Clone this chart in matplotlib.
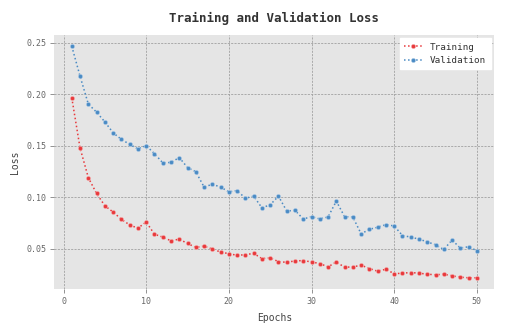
import matplotlib
matplotlib.use("Agg")
import matplotlib.pyplot as plt
import numpy as np

epochs = list(range(1, 51))
train_loss = [0.1965, 0.1478, 0.119, 0.1036, 0.0917, 0.0856, 0.0786, 0.0731, 0.0699, 0.076,
              0.0641, 0.0613, 0.0577, 0.0593, 0.0551, 0.0513, 0.0525, 0.0497, 0.0468, 0.0452,
              0.0436, 0.0442, 0.0455, 0.0404, 0.0411, 0.0375, 0.0368, 0.0382, 0.0385, 0.0372,
              0.0356, 0.0324, 0.0372, 0.032, 0.0324, 0.034, 0.0308, 0.0282, 0.0301, 0.0257,
              0.0263, 0.0269, 0.0263, 0.0253, 0.0247, 0.0253, 0.0237, 0.0224, 0.0218, 0.0218]
val_loss = [0.2465, 0.2174, 0.1904, 0.1825, 0.1731, 0.1625, 0.1561, 0.1513, 0.1468, 0.15,
            0.1423, 0.1334, 0.1337, 0.1385, 0.1288, 0.1247, 0.1099, 0.1125, 0.1099, 0.1051,
            0.1064, 0.099, 0.101, 0.0897, 0.0926, 0.101, 0.0866, 0.0872, 0.0789, 0.0811,
            0.0789, 0.0808, 0.0962, 0.0811, 0.0808, 0.0644, 0.0689, 0.0708, 0.0734, 0.0721,
            0.0628, 0.0613, 0.0593, 0.0567, 0.0538, 0.0493, 0.0584, 0.0507, 0.0519, 0.0481]

plt.rcParams['font.family'] = ['DejaVu Sans Mono']

fig = plt.figure(figsize=(5.08, 3.33), dpi=100)
ax = fig.add_axes([0.107, 0.131, 0.866, 0.765])
ax.set_facecolor('#e5e5e5')
for s in ax.spines.values():
    s.set_visible(False)

red = '#e8393c'
blue = '#4a8bc4'
ax.plot(epochs, train_loss, linestyle=':', color=red, marker='o', markersize=3,
        markeredgecolor='#f4b0b0', markeredgewidth=0.4, linewidth=1.1, label='Training')
ax.plot(epochs, val_loss, linestyle=':', color=blue, marker='o', markersize=3,
        markeredgecolor='#b0cce6', markeredgewidth=0.4, linewidth=1.1, label='Validation')

ax.margins(x=0.043)
ax.grid(True, linestyle=(0, (2.5, 1.5)), color='#a0a0a0', linewidth=0.6)
ax.set_axisbelow(True)
ax.tick_params(labelsize=6, colors='#666666', length=3, width=0.5, pad=2.5)
ax.set_xticks([0, 10, 20, 30, 40, 50])
ax.set_yticks([0.05, 0.10, 0.15, 0.20, 0.25])
ax.set_xlabel('Epochs', fontsize=7, color='#444444', labelpad=5, fontweight='medium')
ax.set_ylabel('Loss', fontsize=7, color='#444444', labelpad=4.5, fontweight='medium')
ax.set_title('Training and Validation Loss', fontsize=9, fontweight='bold', color='#333333', pad=9)

leg = ax.legend(loc='upper right', fontsize=6.7, frameon=True, fancybox=False,
                framealpha=1.0, edgecolor='white', handlelength=2.0, borderpad=0.45,
                borderaxespad=0.4)
for t in leg.get_texts():
    t.set_color('#333333')

fig.savefig('out.png', dpi=100)
